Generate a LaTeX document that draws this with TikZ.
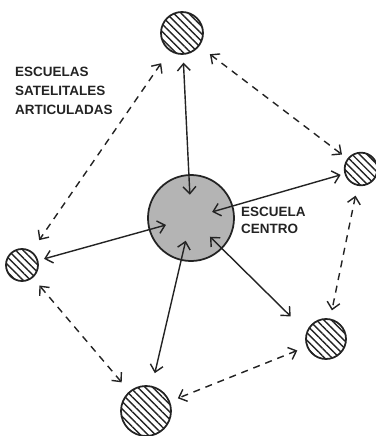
\documentclass[tikz,border=0pt]{standalone}
\usepackage{fontspec}
\setmainfont{Liberation Sans}
\definecolor{ink}{RGB}{35, 35, 35}
\definecolor{shade}{RGB}{180, 180, 180}
\usepackage{tikz}
\usetikzlibrary{arrows.meta, patterns.meta}
\tikzset{
    satellite/.style={circle, draw=ink, line width=1.5pt, inner sep=0pt, pattern={Lines[angle=-45, distance=4.5pt, line width=1.2pt]}, pattern color=ink},
    hub/.style={circle, draw=ink, line width=1.5pt, fill=shade, minimum size=2.58cm, inner sep=0pt},
    biarrow/.style={line width=1.2pt, ink, {Straight Barb[length=6pt,width=11pt]}-{Straight Barb[length=6pt,width=11pt]}},
    dashedbiarrow/.style={biarrow, dash pattern=on 6pt off 5pt},
    notetext/.style={align=left, font=\fontsize{11.5}{16}\selectfont\bfseries, text=ink, inner sep=0pt}
}

\begin{document}
\begin{tikzpicture}[x=0.03cm, y=-0.03cm]
        \useasboundingbox (0,0) rectangle (376,436);

        % Central school and its satellites
        \node[hub] (ctr) at (191,218) {};
        \node[satellite, minimum size=1.26cm] (top) at (182,33) {};
        \node[satellite, minimum size=0.98cm] (rgt) at (361,169) {};
        \node[satellite, minimum size=0.96cm] (lft) at (22,265) {};
        \node[satellite, minimum size=1.2cm] (brt) at (326,339) {};
        \node[satellite, minimum size=1.5cm] (bot) at (146,411) {};

        % Labels
        \node[notetext, anchor=north west] (satlabel) at (15,67) {ESCUELAS\\SATELITALES\\ARTICULADAS};
        \node[notetext, anchor=north west, font=\fontsize{11.5}{14}\selectfont\bfseries] (ctrlabel) at (241,207) {ESCUELA\\CENTRO};

        % Links between centre and satellites
        \draw[biarrow, shorten <=0.7cm, shorten >=0.24cm] (ctr.center) -- (top);
        \draw[biarrow, shorten <=0.66cm, shorten >=0.12cm] (ctr.center) -- (rgt);
        \draw[biarrow, shorten <=0.78cm, shorten >=0.18cm] (ctr.center) -- (lft);
        \draw[biarrow, shorten <=0.7cm, shorten >=0.39cm] (ctr.center) -- (bot);
        \draw[biarrow, shorten <=0.8cm, shorten >=0.66cm] (ctr.center) -- (brt.160);

        % Links between satellites
        \draw[dashedbiarrow, shorten <=0.45cm, shorten >=0.4cm] (top) -- (lft);
        \draw[dashedbiarrow, shorten <=0.4cm, shorten >=0.2cm] (top) -- (rgt);
        \draw[dashedbiarrow, shorten <=0.3cm, shorten >=0.25cm] (rgt) -- (brt);
        \draw[dashedbiarrow, shorten <=0.3cm, shorten >=0.25cm] (brt) -- (bot);
        \draw[dashedbiarrow, shorten <=0.35cm, shorten >=0.3cm] (bot) -- (lft);
    \end{tikzpicture}
\end{document}
